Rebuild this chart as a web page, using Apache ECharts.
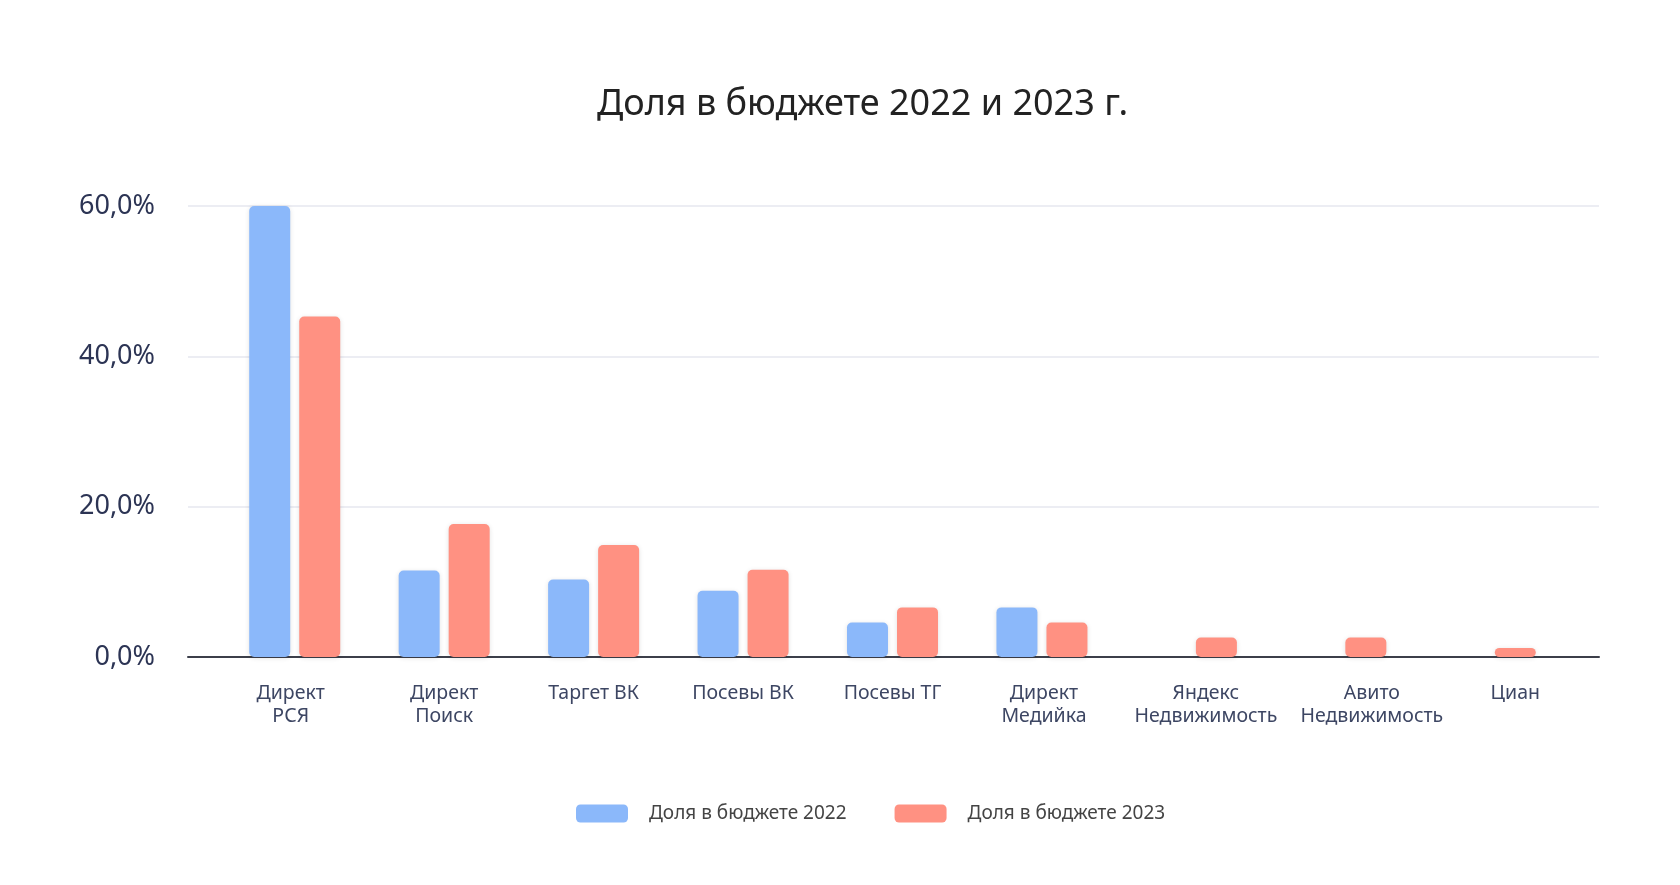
<!DOCTYPE html>
<html>
<head>
<meta charset="utf-8">
<script src="https://cdn.jsdelivr.net/npm/echarts@6/dist/echarts.min.js"></script>
<style>
html,body{margin:0;padding:0;background:#fff;}
#chart{width:1680px;height:885px;}
</style>
</head>
<body>
<div id="chart"></div>
<script>
const titleText = 'Доля в бюджете 2022 и 2023 г.';
const categories = ['Директ\nРСЯ', 'Директ\nПоиск', 'Таргет ВК', 'Посевы ВК', 'Посевы ТГ', 'Директ\nМедийка', 'Яндекс\nНедвижимость', 'Авито\nНедвижимость', 'Циан'];
const seriesNames = ['Доля в бюджете 2022', 'Доля в бюджете 2023'];
const share2022 = [60.0, 11.5, 10.3, 8.8, 4.6, 6.6, null, null, null];
const share2023 = [45.3, 17.7, 14.9, 11.6, 6.6, 4.6, 2.6, 2.6, 1.2];
const yTicks = [0, 20, 40, 60];

const FONT = 'Noto Sans';
const labelShift = [-8, 0, 0, 0, 0, 4, 29, 62, 50];
const catData = categories.map((c, i) => ({
  value: c,
  textStyle: { padding: labelShift[i] >= 0 ? [0, 0, 0, labelShift[i]] : [0, -labelShift[i], 0, 0] }
}));

const chart = echarts.init(document.getElementById('chart'), null, { renderer: 'canvas' });
const barStyle = (color) => ({
  color: color,
  borderRadius: 5,
  shadowBlur: 5,
  shadowColor: 'rgba(0,0,0,0.12)',
  shadowOffsetY: 1
});
chart.setOption({
  backgroundColor: '#ffffff',
  animation: false,
  textStyle: { fontFamily: FONT },
  title: {
    text: titleText,
    left: 592,
    top: 82,
    textStyle: { fontFamily: FONT, fontSize: 36, fontWeight: 'normal', color: '#222222' }
  },
  legend: {
    data: seriesNames,
    left: 571,
    top: 799,
    itemWidth: 52,
    itemHeight: 18,
    itemGap: 48,
    icon: 'roundRect',
    textStyle: { fontFamily: FONT, fontSize: 19, color: '#444444', padding: [0, 0, 0, 16] }
  },
  grid: [
    { left: 188, right: 81, top: 206, bottom: 228 },
    { left: 220, right: 115, top: 206, bottom: 228 }
  ],
  xAxis: [
    {
      gridIndex: 0, type: 'category', data: categories,
      axisLine: { show: true, lineStyle: { color: '#3c3f4a', width: 2 } },
      axisTick: { show: false }, axisLabel: { show: false }
    },
    {
      gridIndex: 1, type: 'category', data: catData,
      axisLine: { show: false }, axisTick: { show: false },
      axisLabel: { fontFamily: FONT, fontSize: 19.5, color: '#3d4663', margin: 25, lineHeight: 23, interval: 0 }
    }
  ],
  yAxis: [
    {
      gridIndex: 0, type: 'value', min: yTicks[0], max: yTicks[yTicks.length - 1], interval: 20,
      axisLine: { show: false }, axisTick: { show: false },
      splitLine: { lineStyle: { color: '#e6e7ef', width: 1.5 } },
      axisLabel: {
        fontFamily: FONT, fontSize: 27, color: '#2c3454', margin: 33,
        formatter: (v) => v.toFixed(1).replace('.', ',') + '%'
      }
    },
    {
      gridIndex: 1, type: 'value', min: yTicks[0], max: yTicks[yTicks.length - 1], interval: 20,
      show: false, splitLine: { show: false }
    }
  ],
  series: [
    {
      name: seriesNames[0], type: 'bar', xAxisIndex: 1, yAxisIndex: 1,
      data: share2022, barWidth: 41, barGap: '22%',
      itemStyle: barStyle('#8bb8fa')
    },
    {
      name: seriesNames[1], type: 'bar', xAxisIndex: 1, yAxisIndex: 1,
      data: share2023, barWidth: 41, barGap: '22%',
      itemStyle: barStyle('#ff9182')
    }
  ]
});
</script>
</body>
</html>
